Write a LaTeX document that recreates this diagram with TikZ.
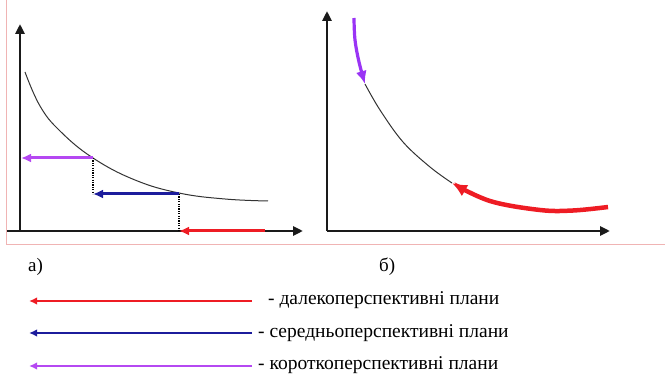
\documentclass[tikz,border=0pt]{standalone}
\usepackage{fontspec}
\setmainfont{Liberation Serif}
\usetikzlibrary{arrows.meta}
\definecolor{frame}{HTML}{F0B4B4}
\definecolor{cred}{HTML}{EE1C24}
\definecolor{cblue}{HTML}{1C1C9C}
\definecolor{cpurp}{HTML}{B548F2}
\definecolor{cpurpb}{HTML}{9A34F5}
\definecolor{curvec}{HTML}{333333}
\definecolor{axc}{HTML}{1A1A1A}
\tikzset{
  axis/.style={line width=2.8pt,axc,-{Triangle[length=10pt,width=9pt]}},
  planarrow/.style={line width=3pt,-{Latex[length=10pt,width=9pt]}},
  legarrow/.style={line width=2.5pt,-{Latex[length=8pt,width=7.5pt]}},
  guide/.style={line width=1.8pt,black,dash pattern=on 1.2pt off 1.2pt},
  legtext/.style={anchor=base west,inner sep=0pt,font=\fontsize{19.5pt}{21pt}\selectfont},
  paneltext/.style={anchor=base west,inner sep=0pt,font=\fontsize{19pt}{21pt}\selectfont},
}
\begin{document}
\begin{tikzpicture}[x=1pt,y=-1pt]
\useasboundingbox (0,0) rectangle (665,374);
% frame
\draw[frame,line width=1pt] (6.5,0) -- (6.5,244.5) -- (665,244.5);
% left panel
\coordinate (LO) at (20,231);
\coordinate (LYT) at (20,24);
\coordinate (LXS) at (7,231);
\coordinate (LXT) at (303,231);
\draw[axis] (LO) -- (LYT);
\draw[axis] (LXS) -- (LXT);
\coordinate (P1) at (93,158);
\coordinate (P2) at (179,194);
\coordinate (P1a) at (21,158);
\coordinate (P2a) at (93,194);
\coordinate (P3) at (179,231);
\coordinate (P3s) at (265,231);
\draw[curvec,line width=1pt] plot[smooth,tension=0.7] coordinates
  {(25,72) (40,106) (60,131) (93,158) (135,180) (179,193) (225,199) (268,201)};
\draw[guide] (P1) -- (P2a);
\draw[guide] (P2) -- (P3);
\draw[planarrow,cpurp] (P1) -- (P1a);
\draw[planarrow,cblue] (P2) -- (P2a);
\draw[planarrow,cred] (P3s) -- (P3);
% right panel
\coordinate (RO) at (327,231);
\coordinate (RYT) at (327,11);
\coordinate (RXT) at (610,231);
\draw[axis] (RO) -- (RYT);
\draw[axis] (RO) -- (RXT);
\coordinate (Q0) at (354,18);
\coordinate (Q1) at (365,84);
\coordinate (Q2) at (452,183);
\coordinate (Q3) at (608,207);
\draw[curvec,line width=1pt] plot[smooth,tension=0.6] coordinates
  {(Q1) (380,110) (403,142) (430,167) (Q2)};
\draw[cpurpb,line width=3.2pt,-{Latex[length=13pt,width=11pt]}] plot[smooth,tension=0.6] coordinates
  {(Q0) (355,40) (359,62) (Q1)};
\draw[cred,line width=4.5pt,-{Latex[length=15pt,width=13pt]}] plot[smooth,tension=0.6] coordinates
  {(Q3) (573,210.5) (540,210) (490,201) (Q2)};
% labels
\node[paneltext] (la) at (28,272) {а)};
\node[paneltext] (lb) at (379,272) {б)};
% legend
\coordinate (A1s) at (252,301); \coordinate (A1e) at (29,301);
\coordinate (A2s) at (252,333); \coordinate (A2e) at (29,333);
\coordinate (A3s) at (252,366); \coordinate (A3e) at (29,366);
\draw[legarrow,cred] (A1s) -- (A1e);
\draw[legarrow,cblue] (A2s) -- (A2e);
\draw[legarrow,cpurp] (A3s) -- (A3e);
\node[legtext] (t1) at (268,305) {- далекоперспективні плани};
\node[legtext] (t2) at (258,337.5) {- середньоперспективні плани};
\node[legtext] (t3) at (258,369.5) {- короткоперспективні плани};
\end{tikzpicture}
\end{document}
